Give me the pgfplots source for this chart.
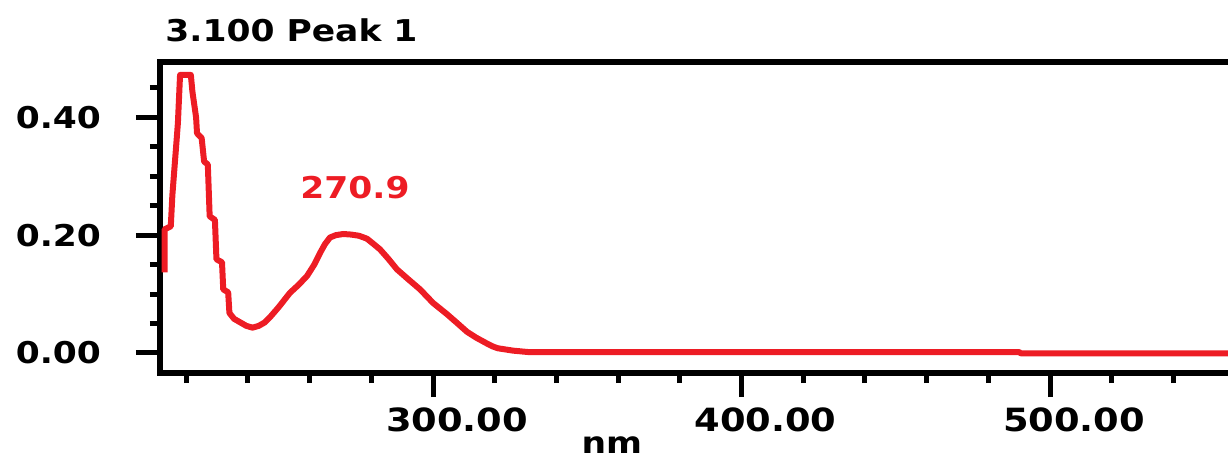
\documentclass[border=0pt]{standalone}
\usepackage{pgfplots}
\pgfplotsset{compat=1.18}
\usepackage{fontspec}
\setmainfont{DejaVu Sans}[FakeStretch=1.15]
\definecolor{specred}{RGB}{237,28,36}

\pgfplotstableread{
nm abs
213.0 0.137
213.0 0.210
215.0 0.215
215.5 0.267
217.3 0.390
218.0 0.472
221.5 0.472
222.0 0.444
223.2 0.400
223.5 0.373
225.0 0.365
225.8 0.325
227.0 0.320
227.6 0.232
229.3 0.226
229.8 0.159
231.6 0.154
232.0 0.108
233.6 0.103
234.0 0.068
235.5 0.058
237.5 0.052
239.5 0.046
241.5 0.043
243.5 0.046
245.5 0.052
247.2 0.061
250.0 0.078
253.6 0.102
256.5 0.116
259.2 0.131
261.5 0.150
263.4 0.170
265.0 0.185
266.6 0.196
268.5 0.200
270.9 0.202
273.5 0.201
276.0 0.199
278.6 0.194
280.5 0.186
282.8 0.176
285.5 0.160
288.3 0.142
292.0 0.125
295.8 0.108
300.0 0.085
304.5 0.066
308.0 0.050
311.0 0.036
314.0 0.026
317.5 0.016
319.4 0.011
321.0 0.008
325.9 0.004
331.0 0.0015
400.0 0.0015
490.0 0.0015
490.5 -0.0005
557.7 -0.0005
}\spectrum

\begin{document}
\begin{tikzpicture}
\begin{axis}[
  scale only axis, width=534pt, height=155.5pt,
  xmin=211.5, xmax=557.7, ymin=-0.034, ymax=0.494,
  axis x line=box, axis y line=left,
  axis line style={-, line width=2.8pt, line cap=rect},
  xtick={300,400,500},
  minor xtick={220,240,260,280,320,340,360,380,420,440,460,480,520,540},
  ytick={0,0.2,0.4},
  minor ytick={0.05,0.1,0.15,0.25,0.3,0.35,0.45},
  tick align=outside, xtick pos=lower, ytick pos=left,
  major tick length=12pt, minor tick length=5pt,
  tick style={black, line width=2.5pt},
  xticklabel style={font=\bfseries\fontsize{16}{16}\selectfont, xshift=12pt, yshift=-2pt,
    /pgf/number format/.cd, fixed, fixed zerofill, precision=2, assume math mode=true},
  yticklabel style={font=\bfseries\fontsize{15}{15}\selectfont, xshift=-14pt,
    /pgf/number format/.cd, fixed, fixed zerofill, precision=2, assume math mode=true},
  title={3.100 Peak 1},
  title style={at={(axis description cs:0,1)}, anchor=base west, inner sep=0pt,
    xshift=2.5pt, yshift=4pt, font=\bfseries\fontsize{15}{15}\selectfont},
  xlabel={nm},
  xlabel style={at={(axis description cs:0.423,0)}, anchor=base, inner sep=0pt,
    yshift=-40pt, font=\bfseries\fontsize{15}{15}\selectfont},
]
\addplot[specred, line width=3pt, line join=round] table[x=nm, y=abs] {\spectrum};
\node[text=specred, font=\bfseries\fontsize{15}{15}\selectfont, anchor=base, inner sep=0pt]
  at (axis cs:274.7,0.262) {270.9};
\coordinate (ll) at (rel axis cs:0,0);
\coordinate (ur) at (rel axis cs:1,1);
\end{axis}
\pgfresetboundingbox
\path[use as bounding box] ([xshift=-80pt,yshift=-44pt]ll) rectangle ([yshift=31pt]ur);
\end{tikzpicture}
\end{document}
